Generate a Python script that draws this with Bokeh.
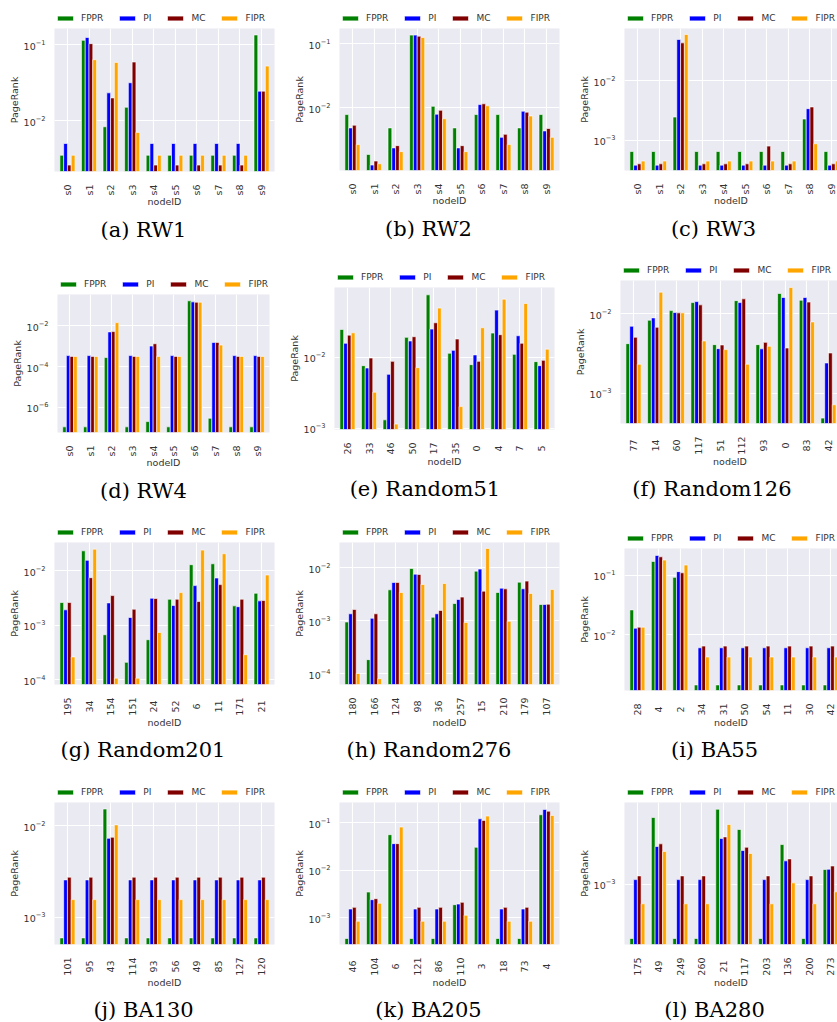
import math
import numpy as np
from bokeh.plotting import figure
from bokeh.layouts import column, row
from bokeh.models import (Range1d, FixedTicker, LogTickFormatter, Legend,
                          LegendItem, Title, ColumnDataSource)
from bokeh.embed import file_html
from bokeh.resources import INLINE

METHODS = ["FPPR", "PI", "MC", "FIPR"]
COLORS = ["#008000", "#0000ff", "#800000", "#ffa500"]

# ---------------------------------------------------------------- data
RW_NODES = ["s0", "s1", "s2", "s3", "s4", "s5", "s6", "s7", "s8", "s9"]

RW1_FPPR = [0.0035, 0.114, 0.0083, 0.0150, 0.0035, 0.0035, 0.0035, 0.0035, 0.0035, 0.134]
RW1_PI   = [0.0050, 0.124, 0.0232, 0.0315, 0.0050, 0.0050, 0.0050, 0.0050, 0.0050, 0.0244]
RW1_MC   = [0.0026, 0.103, 0.0199, 0.0590, 0.0026, 0.0026, 0.0026, 0.0026, 0.0026, 0.0244]
RW1_FIPR = [0.0035, 0.0634, 0.0584, 0.0070, 0.0035, 0.0035, 0.0035, 0.0035, 0.0035, 0.0522]

RW2_FPPR = [0.0079, 0.0019, 0.0049, 0.135, 0.0106, 0.0049, 0.0079, 0.0079, 0.0049, 0.0079]
RW2_PI   = [0.0049, 0.0013, 0.0024, 0.135, 0.0080, 0.0024, 0.0113, 0.0035, 0.0089, 0.0044]
RW2_MC   = [0.0054, 0.0015, 0.0026, 0.130, 0.0092, 0.0026, 0.0116, 0.0039, 0.0086, 0.0048]
RW2_FIPR = [0.0027, 0.00136, 0.0021, 0.124, 0.0068, 0.0021, 0.0108, 0.0027, 0.0075, 0.0035]

RW3_FPPR = [0.00065, 0.00065, 0.00247, 0.00065, 0.00065, 0.00065, 0.00065, 0.00065, 0.00229, 0.00065]
RW3_PI   = [0.000384, 0.000384, 0.0498, 0.000384, 0.000384, 0.000384, 0.000384, 0.000384, 0.00342, 0.000384]
RW3_MC   = [0.000404, 0.000404, 0.0437, 0.000404, 0.000404, 0.000404, 0.000802, 0.000404, 0.00365, 0.000404]
RW3_FIPR = [0.000449, 0.000449, 0.0604, 0.000449, 0.000449, 0.000449, 0.000449, 0.000449, 0.000878, 0.000449]

RW4_FPPR = [1.1e-7, 1.1e-7, 2.8e-4, 1.1e-7, 2.0e-7, 1.1e-7, 0.172, 2.9e-7, 1.1e-7, 1.1e-7]
RW4_PI   = [3.5e-4, 3.5e-4, 5.1e-3, 3.5e-4, 1.03e-3, 3.5e-4, 0.153, 1.56e-3, 3.5e-4, 3.5e-4]
RW4_MC   = [3.2e-4, 3.2e-4, 5.3e-3, 3.2e-4, 1.34e-3, 3.2e-4, 0.147, 1.56e-3, 3.2e-4, 3.2e-4]
RW4_FIPR = [3.2e-4, 3.2e-4, 1.46e-2, 3.2e-4, 3.2e-4, 3.2e-4, 0.147, 1.15e-3, 3.2e-4, 3.2e-4]

R51_NODES = ["26", "33", "46", "50", "17", "35", "0", "4", "7", "5"]
R51_FPPR = [0.0244, 0.00756, 0.00131, 0.0189, 0.0748, 0.0113, 0.00781, 0.0217, 0.0109, 0.00861]
R51_PI   = [0.0156, 0.00701, 0.00571, 0.0168, 0.0247, 0.0124, 0.0107, 0.0456, 0.0199, 0.00756]
R51_MC   = [0.0203, 0.00968, 0.00869, 0.0193, 0.0303, 0.0179, 0.00869, 0.0206, 0.0156, 0.00898]
R51_FIPR = [0.0219, 0.0032, 0.00114, 0.00709, 0.0487, 0.00201, 0.0258, 0.0650, 0.0565, 0.0129]

R126_NODES = ["77", "14", "60", "117", "51", "112", "93", "0", "83", "42"]
R126_FPPR = [0.00421, 0.00832, 0.0110, 0.0139, 0.00409, 0.0147, 0.00409, 0.0181, 0.0149, 0.000483]
R126_PI   = [0.00698, 0.00890, 0.0104, 0.0143, 0.00364, 0.0139, 0.00362, 0.0161, 0.0161, 0.00240]
R126_MC   = [0.00507, 0.00678, 0.0103, 0.0130, 0.00405, 0.0155, 0.00437, 0.00371, 0.0141, 0.00321]
R126_FIPR = [0.00231, 0.0188, 0.0103, 0.00455, 0.00354, 0.00231, 0.00390, 0.0215, 0.00792, 0.000712]

R201_NODES = ["195", "34", "154", "151", "24", "52", "6", "11", "171", "21"]
R201_FPPR = [0.00260, 0.0232, 0.000666, 0.000207, 0.000539, 0.00299, 0.0129, 0.0134, 0.00226, 0.00385]
R201_PI   = [0.00191, 0.0155, 0.00256, 0.00138, 0.00312, 0.00229, 0.00532, 0.00734, 0.00218, 0.00279]
R201_MC   = [0.00260, 0.00745, 0.00349, 0.00196, 0.00308, 0.00299, 0.00271, 0.00555, 0.00299, 0.00283]
R201_FIPR = [0.000260, 0.0249, 0.000106, 0.000106, 0.000734, 0.00396, 0.0239, 0.0205, 0.000286, 0.00834]

R276_NODES = ["180", "166", "124", "98", "36", "257", "15", "210", "179", "107"]
R276_FPPR = [0.000944, 0.000183, 0.00383, 0.00971, 0.00116, 0.00211, 0.00865, 0.00341, 0.00535, 0.00202]
R276_PI   = [0.00135, 0.00111, 0.00528, 0.00759, 0.00135, 0.00252, 0.00944, 0.00412, 0.00401, 0.00202]
R276_MC   = [0.00163, 0.00135, 0.00528, 0.00748, 0.00156, 0.00279, 0.00362, 0.00400, 0.00560, 0.00205]
R276_FIPR = [0.000100, 0.0000800, 0.00341, 0.00484, 0.00505, 0.000922, 0.0232, 0.000971, 0.00327, 0.00389]

BA55_NODES = ["28", "4", "2", "34", "31", "50", "54", "11", "30", "42"]
BA55_FPPR = [0.0261, 0.169, 0.0914, 0.00145, 0.00145, 0.00145, 0.00145, 0.00145, 0.00145, 0.00145]
BA55_PI   = [0.0129, 0.213, 0.114, 0.00607, 0.00607, 0.00607, 0.00607, 0.00607, 0.00607, 0.00607]
BA55_MC   = [0.0134, 0.202, 0.109, 0.00647, 0.00647, 0.00647, 0.00647, 0.00647, 0.00647, 0.00647]
BA55_FIPR = [0.0134, 0.178, 0.147, 0.00425, 0.00425, 0.00425, 0.00425, 0.00425, 0.00425, 0.00425]

BA130_NODES = ["101", "95", "43", "114", "93", "56", "49", "85", "127", "120"]
BA130_FPPR = [0.000596, 0.000596, 0.0152, 0.000596, 0.000596, 0.000596, 0.000596, 0.000596, 0.000596, 0.000596]
BA130_PI   = [0.00256, 0.00256, 0.00728, 0.00256, 0.00256, 0.00256, 0.00256, 0.00256, 0.00256, 0.00256]
BA130_MC   = [0.00274, 0.00274, 0.00747, 0.00274, 0.00274, 0.00274, 0.00274, 0.00274, 0.00274, 0.00274]
BA130_FIPR = [0.00156, 0.00156, 0.0102, 0.00156, 0.00156, 0.00156, 0.00156, 0.00156, 0.00156, 0.00156]

BA205_NODES = ["46", "104", "6", "121", "86", "110", "3", "18", "73", "4"]
BA205_FPPR = [0.000370, 0.00350, 0.0561, 0.000370, 0.000370, 0.00190, 0.0305, 0.000370, 0.000370, 0.147]
BA205_PI   = [0.00154, 0.00242, 0.0364, 0.00154, 0.00154, 0.00196, 0.121, 0.00154, 0.00154, 0.190]
BA205_MC   = [0.00167, 0.00254, 0.0364, 0.00167, 0.00167, 0.00213, 0.112, 0.00167, 0.00167, 0.175]
BA205_FIPR = [0.000852, 0.00203, 0.0812, 0.000852, 0.000852, 0.00114, 0.138, 0.000852, 0.000852, 0.142]

BA280_NODES = ["175", "49", "249", "260", "21", "117", "203", "136", "200", "273"]
BA280_FPPR = [0.000286, 0.00464, 0.000286, 0.000286, 0.00562, 0.00352, 0.000286, 0.00249, 0.000286, 0.00140]
BA280_PI   = [0.00111, 0.00238, 0.00111, 0.00111, 0.00286, 0.00217, 0.00111, 0.00171, 0.00111, 0.00141]
BA280_MC   = [0.00121, 0.00253, 0.00121, 0.00121, 0.00297, 0.00234, 0.00121, 0.00179, 0.00121, 0.00152]
BA280_FIPR = [0.000636, 0.00212, 0.000636, 0.000636, 0.00395, 0.00203, 0.000636, 0.00103, 0.000636, 0.000838]

CAPTIONS = ["(a) RW1", "(b) RW2", "(c) RW3", "(d) RW4", "(e) Random51", "(f) Random126",
            "(g) Random201", "(h) Random276", "(i) BA55", "(j) BA130", "(k) BA205", "(l) BA280"]

PANEL_DATA = [
    (RW_NODES, [RW1_FPPR, RW1_PI, RW1_MC, RW1_FIPR], (2.14e-3, 0.163), [1e-2, 1e-1]),
    (RW_NODES, [RW2_FPPR, RW2_PI, RW2_MC, RW2_FIPR], (1.07e-3, 0.171), [1e-2, 1e-1]),
    (RW_NODES, [RW3_FPPR, RW3_PI, RW3_MC, RW3_FIPR], (3.12e-4, 0.0762), [1e-3, 1e-2]),
    (RW_NODES, [RW4_FPPR, RW4_PI, RW4_MC, RW4_FIPR], (5.8e-8, 0.352), [1e-6, 1e-4, 1e-2]),
    (R51_NODES, [R51_FPPR, R51_PI, R51_MC, R51_FIPR], (9.58e-4, 0.0948), [1e-3, 1e-2]),
    (R126_NODES, [R126_FPPR, R126_PI, R126_MC, R126_FIPR], (4.13e-4, 0.0264), [1e-3, 1e-2]),
    (R201_NODES, [R201_FPPR, R201_PI, R201_MC, R201_FIPR], (8.1e-5, 0.033), [1e-4, 1e-3, 1e-2]),
    (R276_NODES, [R276_FPPR, R276_PI, R276_MC, R276_FIPR], (6.2e-5, 0.0301), [1e-4, 1e-3, 1e-2]),
    (BA55_NODES, [BA55_FPPR, BA55_PI, BA55_MC, BA55_FIPR], (1.17e-3, 0.278), [1e-2, 1e-1]),
    (BA130_NODES, [BA130_FPPR, BA130_PI, BA130_MC, BA130_FIPR], (5.05e-4, 0.0179), [1e-3, 1e-2]),
    (BA205_NODES, [BA205_FPPR, BA205_PI, BA205_MC, BA205_FIPR], (2.77e-4, 0.266), [1e-3, 1e-2, 1e-1]),
    (BA280_NODES, [BA280_FPPR, BA280_PI, BA280_MC, BA280_FIPR], (2.49e-4, 0.00656), [1e-3]),
]

# ---------------------------------------------------------------- geometry
COL_X = [0, 285, 571]
COL_W = [285, 286, 266]
ROW_Y = [0, 255, 510, 770]
ROW_H = [255, 255, 260, 252]
# plot frame of each panel: left, top, bottom, nominal width (page pixels)
FRAMES = [
    (54, 28, 171, 220), (339, 28, 170, 220), (624, 28, 170, 220),
    (57, 294, 432, 212), (334, 287, 429, 220), (618, 280, 423, 221),
    (54, 541, 683, 220), (339, 541, 683, 220), (624, 547, 689, 219),
    (54, 801, 943, 220), (339, 801, 943, 220), (624, 801, 943, 219),
]
# horizontal centre of each caption (page pixels)
CAPTION_CX = [143, 428, 713, 143, 424, 709, 142, 428, 714, 143, 428, 714]

X_LO, X_HI = -0.6, 9.6
BAR_W = 0.175
TEXT_COLOR = "#333333"
PAD = {1: "\u2008", 2: "\u2007"}
CAPTION_FONT_PX = 21
# approximate DejaVu Serif advance widths (em) used to centre the captions
SERIF_EM = {"(": 0.390, ")": 0.390, " ": 0.318, "a": 0.596, "b": 0.640, "c": 0.560,
            "d": 0.640, "e": 0.592, "f": 0.370, "g": 0.640, "h": 0.644, "i": 0.320,
            "j": 0.310, "k": 0.610, "l": 0.320, "m": 0.948, "n": 0.644, "o": 0.602,
            "R": 0.734, "W": 1.030, "A": 0.722, "B": 0.735}


def caption_width(text):
    return sum(SERIF_EM.get(ch, 0.636) for ch in text) * CAPTION_FONT_PX


def centred_labels(nodes):
    # pad short ids so that the rotated labels share a common centre line
    m = max(len(n) for n in nodes)
    return [n + PAD.get(m - len(n), "") for n in nodes]


def legend_strip(width, height, left_b, sources):
    # white band above a panel carrying its one-row legend; the key bars share
    # the panel's data but sit below this band's visible y-range
    s = figure(width=width, height=height, x_range=Range1d(X_LO, X_HI),
               y_range=Range1d(10, 11), x_axis_location=None, y_axis_location=None,
               output_backend="svg", toolbar_location=None,
               min_border_left=left_b, min_border_right=0,
               min_border_top=0, min_border_bottom=0)
    s.background_fill_color = "white"
    s.border_fill_color = "white"
    s.outline_line_color = None
    s.grid.visible = False
    items = []
    for name, color, src in zip(METHODS, COLORS, sources):
        key = s.vbar(x="x", top="top", bottom=0, width=BAR_W, source=src,
                     fill_color=color, line_color="white", line_width=0.6)
        items.append(LegendItem(label=name, renderers=[key]))
    leg = Legend(items=items, orientation="horizontal", location="bottom_left",
                 glyph_width=20, glyph_height=6, label_standoff=6, spacing=14,
                 padding=0, margin=1, label_width=0, label_height=19,
                 label_text_font="DejaVu Sans", label_text_font_size="9px",
                 label_text_color=TEXT_COLOR, border_line_alpha=0,
                 background_fill_alpha=0)
    s.add_layout(leg)
    return s


def make_panel(i):
    nodes, series, (lo, hi), yticks = PANEL_DATA[i]
    r, c = divmod(i, 3)
    L, T, B, W = FRAMES[i]
    x0, y0, cw, rh = COL_X[c], ROW_Y[r], COL_W[c], ROW_H[r]

    unit = W / (X_HI - X_LO)
    left_b = L - x0
    top_b = T - y0
    frame_h = B - T
    bot_b = rh - top_b - frame_h
    vis_w = min(W, cw - left_b)
    right_b = cw - left_b - vis_w
    x_end = X_LO + vis_w / unit

    p = figure(frame_width=vis_w, frame_height=frame_h,
               x_range=Range1d(X_LO, x_end), y_range=Range1d(lo, hi),
               y_axis_type="log", output_backend="svg", toolbar_location=None,
               min_border_left=left_b, min_border_right=right_b,
               min_border_top=0, min_border_bottom=bot_b)
    p.background_fill_color = "#eaeaf2"
    p.border_fill_color = "white"
    p.outline_line_color = None

    idx = np.arange(len(nodes))
    offsets = (np.arange(len(METHODS)) - 1.5) * BAR_W
    sources = []
    for k, (vals, color) in enumerate(zip(series, COLORS)):
        src = ColumnDataSource(dict(x=idx + offsets[k], top=vals))
        sources.append(src)
        p.vbar(x="x", top="top", bottom=lo, width=BAR_W, source=src,
               fill_color=color, line_color="white", line_width=0.6)

    xa = p.xaxis[0]
    xa.ticker = FixedTicker(ticks=[int(v) for v in idx])
    xa.major_label_overrides = {int(v): lab for v, lab in zip(idx, centred_labels(nodes))}
    xa.major_label_orientation = math.pi / 2
    xa.axis_label = "nodeID"
    xa.axis_label_standoff = -2
    xa.major_label_standoff = 7

    ya = p.yaxis[0]
    ya.ticker = FixedTicker(ticks=yticks)
    ya.formatter = LogTickFormatter()
    ya.axis_label = "PageRank"
    ya.axis_label_standoff = 1
    ya.major_label_standoff = 3

    for ax in (xa, ya):
        ax.axis_line_color = None
        ax.major_tick_line_color = None
        ax.minor_tick_line_color = None
        ax.major_label_text_font = "DejaVu Sans"
        ax.major_label_text_font_size = "9.5px"
        ax.major_label_text_color = TEXT_COLOR
        ax.axis_label_text_font = "DejaVu Sans"
        ax.axis_label_text_font_size = "9.5px"
        ax.axis_label_text_font_style = "normal"
        ax.axis_label_text_color = TEXT_COLOR

    p.xgrid.ticker = FixedTicker(ticks=[int(v) for v in idx])
    p.ygrid.ticker = FixedTicker(ticks=yticks)
    p.grid.grid_line_color = "white"
    p.grid.grid_line_width = 1.1

    # sub-figure caption under the axis
    cap = CAPTIONS[i]
    p.add_layout(Title(text=cap, align="left",
                       offset=CAPTION_CX[i] - L - caption_width(cap) / 2,
                       vertical_align="top", standoff=14,
                       text_font="DejaVu Serif", text_font_size=f"{CAPTION_FONT_PX}px",
                       text_font_style="normal", text_color="black"), "below")

    return column(legend_strip(cw, top_b, left_b, sources), p)


cells = [make_panel(i) for i in range(len(PANEL_DATA))]
page = column(*[row(*cells[r * 3:(r + 1) * 3]) for r in range(4)])

open("out.html", "w").write(file_html(page, INLINE, title="PageRank comparison"))
